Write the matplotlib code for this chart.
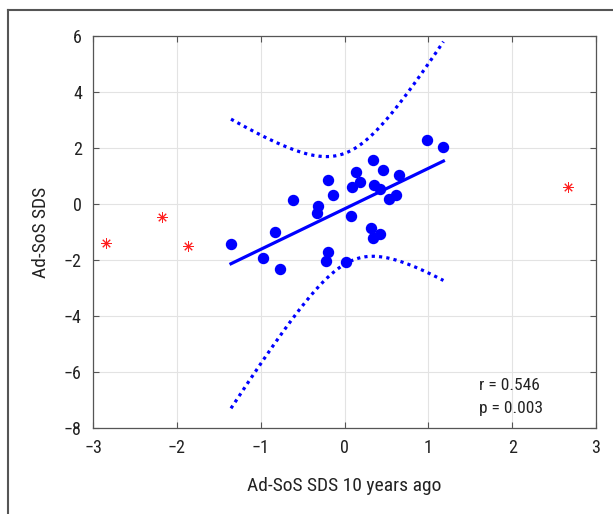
import numpy as np
import matplotlib
matplotlib.use("Agg")
import matplotlib.pyplot as plt
from matplotlib import font_manager
from matplotlib.lines import Line2D

names = {f.name for f in font_manager.fontManager.ttflist}
fam = [n for n in ["Liberation Sans Narrow", "Roboto Condensed", "Liberation Sans"] if n in names] + ["DejaVu Sans"]
plt.rcParams['font.family'] = fam

# Included subjects (blue dots)
x_in = [-1.354, -0.972, -0.829, -0.765, -0.614, -0.32, -0.33, -0.193, -0.137, -0.193,
        -0.217, 0.014, 0.074, 0.086, 0.141, 0.181, 0.34, 0.456, 0.356, 0.427,
        0.65, 0.531, 0.611, 0.313, 0.427, 0.337, 0.99, 1.18]
y_in = [-1.44, -1.92, -1.01, -2.33, 0.13, -0.07, -0.33, 0.85, 0.33, -1.73,
        -2.04, -2.06, -0.42, 0.60, 1.15, 0.80, 1.57, 1.21, 0.67, 0.52,
        1.04, 0.18, 0.33, -0.87, -1.06, -1.21, 2.29, 2.02]
# Excluded subjects (red asterisks)
x_out = [-2.845, -2.18, -1.87, 2.67]
y_out = [-1.39, -0.46, -1.50, 0.60]

# Fit line
fit_intercept = -0.174
fit_slope = 1.447
# Band half-width parameters
band_center = 0.06
band_min_half = 1.97
band_curv = 11.4

r_text = "r = 0.546"
p_text = "p = 0.003"
xticks = [-3, -2, -1, 0, 1, 2, 3]
yticks = [-8, -6, -4, -2, 0, 2, 4, 6]

fig = plt.figure(figsize=(6.13, 5.14), dpi=100)
ax = fig.add_axes([93/613, 86/514, 503/613, 392/514])

blue = '#0000FF'
xs = np.linspace(min(x_in), max(x_in), 200)
fit = fit_intercept + fit_slope * xs
half = np.sqrt(band_min_half**2 + band_curv * (xs - band_center)**2)
ax.plot(xs, fit, color=blue, lw=2.3, zorder=3)
ax.plot(xs, fit + half, color=blue, lw=2.3, ls=(0, (1, 1.3)), zorder=3)
ax.plot(xs, fit - half, color=blue, lw=2.3, ls=(0, (1, 1.3)), zorder=3)
ax.plot(x_in, y_in, 'o', color=blue, ms=7.2, mec=blue, zorder=4)
ax.plot(x_out, y_out, ls='none', marker=(8, 2, 0), color='#FF2020', ms=7.5, mew=0.7, zorder=4)

ax.set_xlim(-3, 3)
ax.set_ylim(-8, 6)
ax.set_xticks(xticks)
ax.set_yticks(yticks)
ax.grid(True, color='#E3E3E3', lw=0.8)
ax.set_axisbelow(True)
ax.tick_params(direction='in', length=4, width=0.8, color='#555555', top=True, right=True,
               labelsize=13, labelcolor='#222222')
ax.tick_params(axis='x', pad=8)
ax.tick_params(axis='y', pad=8)
for s in ax.spines.values():
    s.set_color('#555555')
    s.set_linewidth(0.9)

ax.set_xlabel("Ad-SoS SDS 10 years ago", fontsize=14, color='#222222', labelpad=14)
ax.set_ylabel("Ad-SoS SDS", fontsize=14, color='#222222', labelpad=10)

ax.text(1.6, -6.5, r_text, fontsize=12.5, color='#222222', va='center', ha='left')
ax.text(1.6, -7.29, p_text, fontsize=12.5, color='#222222', va='center', ha='left')

# outer frame (left and top edges)
fig.add_artist(Line2D([8/613, 8/613], [0, 1 - 10/514], transform=fig.transFigure, color='#555555', lw=1.5))
fig.add_artist(Line2D([8/613, 1], [1 - 10/514, 1 - 10/514], transform=fig.transFigure, color='#555555', lw=1.5))

fig.savefig("out.png", dpi=100)
